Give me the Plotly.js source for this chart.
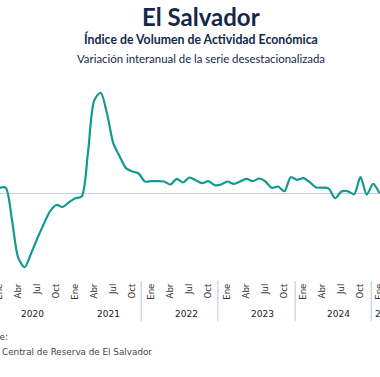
<!DOCTYPE html>
<html><head><meta charset="utf-8">
<script src="https://cdn.plot.ly/plotly-3.0.1.min.js"></script>
<style>html,body{margin:0;padding:0;overflow:hidden;background:#fff;width:380px;height:377px}
#chart{position:absolute;left:-40px;top:0;width:460px;height:377px}</style>
</head><body><div id="chart"></div>
<script>
// Monthly year-on-year variation (%), Jan 2020 .. Jan 2025
const yoy = [1.8, 1.9, -7.7, -19.1, -21.9, -17.9, -13.3, -9.1, -5.2, -3.3, -3.9, -2.5,
  -1.3, -0.8, 12.4, 28.0, 30.2, 24.0, 15.1, 11.2, 7.7, 6.7, 6.1, 3.7,
  3.8, 3.8, 3.7, 2.8, 4.5, 3.4, 4.9, 4.1, 3.2, 3.8, 2.6, 2.8,
  3.7, 3.0, 3.7, 4.5, 3.8, 4.6, 3.7, 1.8, 2.2, 0.8, 5.0, 4.2,
  4.7, 3.5, 1.9, 1.9, 1.6, -1.3, 0.7, 0.8, -0.1, 5.0, -0.2, 3.0,
  0.2];
const monthLabels = ["Ene", "Abr", "Jul", "Oct"];
const years = ["2020", "2021", "2022", "2023", "2024", "2025"];
const yearCenters = [5.3, 17.3, 29.5, 41.6, 53.6, 61.1];
const separators = [22.4, 34.5, 46.7, 58.7];

const xIdx = yoy.map((_, i) => i);
const tickvals = [], ticktext = [];
for (let i = 0; i < yoy.length; i += 3) { tickvals.push(i); ticktext.push(monthLabels[(i / 3) % 4]); }

const navy = "#14284a";
const annotations = [
  {text: "<b>El Salvador</b>", x: 0.524, y: 1.282, xref: "paper", yref: "paper", showarrow: false,
   xanchor: "center", yanchor: "middle", font: {family: "Lato", size: 24, color: navy}},
  {text: "<b>Índice de Volumen de Actividad Económica</b>", x: 0.524, y: 1.175, xref: "paper", yref: "paper", showarrow: false,
   xanchor: "center", yanchor: "middle", font: {family: "Lato", size: 12.3, color: navy}},
  {text: "Variación interanual de la serie desestacionalizada", x: 0.524, y: 1.078, xref: "paper", yref: "paper", showarrow: false,
   xanchor: "center", yanchor: "middle", font: {family: "Lato", size: 11.4, color: navy}},
  {text: "Fuente:", x: 0.0283, y: -0.272, xref: "paper", yref: "paper",
   xanchor: "left", yanchor: "middle", showarrow: false,
   font: {family: "DejaVu Sans", size: 8.8, color: "#444"}},
  {text: "Banco Central de Reserva de El Salvador", x: 0.0217, y: -0.345, xref: "paper", yref: "paper",
   xanchor: "left", yanchor: "middle", showarrow: false,
   font: {family: "DejaVu Sans", size: 8.8, color: "#444"}}
];
years.forEach((y, i) => annotations.push({text: y, x: yearCenters[i], y: -0.16, xref: "x", yref: "paper",
  showarrow: false, xanchor: "center", yanchor: "middle", font: {family: "DejaVu Sans", size: 9, color: "#222"}}));

const shapes = separators.map(s => ({type: "line", xref: "x", yref: "paper", x0: s, x1: s, y0: 0, y1: -0.195,
  line: {color: "#b9c9dc", width: 1}}));

Plotly.newPlot("chart", [{
  x: xIdx, y: yoy, type: "scatter", mode: "lines",
  line: {color: "#13998e", width: 2.2, shape: "spline", smoothing: 0.8},
  hoverinfo: "skip"
}], {
  width: 460, height: 377,
  margin: {l: 0, r: 0, t: 75, b: 96},
  paper_bgcolor: "#fff", plot_bgcolor: "#fff",
  showlegend: false,
  xaxis: {range: [-6.2, 66.4], tickvals: tickvals, ticktext: ticktext, tickangle: -90,
    showgrid: false, zeroline: false, showline: false, ticks: "",
    tickfont: {family: "DejaVu Sans", size: 8.5, color: "#333"}},
  yaxis: {range: [-26, 35.5], showgrid: false, showticklabels: false, ticks: "",
    zeroline: true, zerolinecolor: "#c6d0db", zerolinewidth: 1, showline: false},
  annotations: annotations, shapes: shapes
}, {staticPlot: true, displayModeBar: false});
</script></body></html>
